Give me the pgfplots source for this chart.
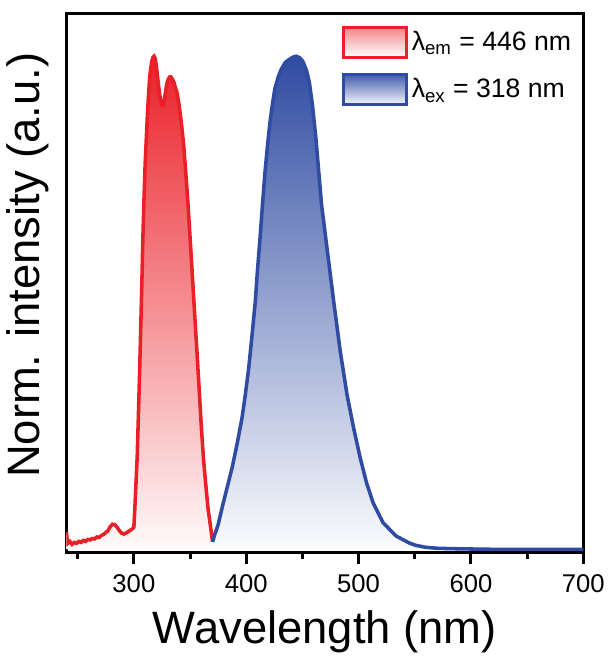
\documentclass[border=0pt]{standalone}
\usepackage{fontspec}
\setmainfont{Liberation Sans}
\usepackage{pgfplots}
\usepackage{pgfplotstable}
\pgfplotsset{compat=1.18}

% excitation spectrum (red), monitored at 446 nm
\pgfplotstableread{
wl int
240 0.035
240.5 0.022
241 0.012
243 0.016
245 0.010
247 0.014
249 0.012
251 0.016
253 0.014
255 0.018
257 0.016
259 0.020
261 0.019
263 0.022
265 0.021
267 0.025
269 0.024
271 0.028
273 0.030
275 0.034
277 0.038
279 0.046
281 0.051
283 0.050
285 0.045
287 0.038
289 0.033
291 0.031
293 0.033
295 0.036
297 0.039
299 0.042
300 0.045
301 0.09
302 0.14
303 0.19
304 0.27
305 0.35
306 0.44
307 0.53
308 0.63
309 0.71
310 0.78
311 0.83
312 0.88
313 0.92
314 0.955
315 0.975
316 0.99
317 0.998
318 1.0
319 0.995
320 0.98
321 0.96
322 0.94
323 0.922
324 0.908
325 0.90
326 0.90
327 0.91
328 0.925
329 0.94
330 0.95
331 0.955
332 0.958
333 0.958
334 0.955
335 0.95
336 0.945
337 0.935
338 0.93
339 0.918
340 0.905
342 0.87
344 0.828
346 0.77
348 0.706
350 0.633
352 0.557
354 0.481
356 0.406
358 0.329
360 0.25
362 0.182
364 0.131
366 0.083
368 0.05
370 0.016
}\exdata

% emission spectrum (blue), excited at 318 nm
\pgfplotstableread{
wl int
370 0.015
372 0.03
375 0.05
378.8 0.087
383 0.125
387.6 0.167
392 0.215
396.3 0.267
399 0.31
402.2 0.367
405 0.43
408 0.50
410 0.565
412.4 0.634
414.5 0.70
416.8 0.767
419 0.82
421.2 0.867
423.5 0.905
425.5 0.934
428.5 0.958
431.3 0.974
435 0.988
438.7 0.994
441.5 0.998
444.4 1.0
447.5 0.997
450.3 0.99
453.5 0.972
456.2 0.947
459 0.90
462 0.834
467 0.70
472.5 0.60
478 0.50
483.8 0.40
489.7 0.314
495.5 0.247
501.3 0.187
507.2 0.134
513 0.094
521.8 0.054
533.4 0.027
545 0.013
551 0.008
560 0.004
571 0.002
590 0.001
620 0.0
660 0.0
700 0.0
}\emdata

\begin{document}
\begin{tikzpicture}
\definecolor{exred}{RGB}{234,32,40}
\definecolor{emblue}{RGB}{48,76,162}
\begin{axis}[
	scale only axis,
	width=262pt, height=273pt,
	xmin=240, xmax=700,
	ymin=-0.006, ymax=1.086,
	xtick={300,400,...,700},
	minor xtick={250,350,...,650},
	ytick=\empty,
	xtick pos=bottom,
	tick align=outside,
	major tick length=6pt,
	minor tick length=3.5pt,
	axis line style={line width=1.5pt},
	every tick/.style={black, line width=1.5pt},
	/pgf/number format/assume math mode=true,
	xticklabel style={font=\fontsize{13}{13}\selectfont, yshift=-2pt},
	xlabel={Wavelength (nm)},
	ylabel={Norm. intensity (a.u.)},
	label style={font=\fontsize{23}{23}\selectfont},
	xlabel style={at={(axis description cs:0.5,0)}, anchor=base, yshift=-46pt},
	ylabel style={at={(axis description cs:-0.075,0.533)}, anchor=center},
	legend style={at={(0.985,0.978)}, anchor=north east, draw=none, fill=none,
		font=\fontsize{13.5}{15}\selectfont, row sep=7.5pt, inner sep=0pt},
	legend cell align=left,
]
\addplot[draw=none, top color=exred, bottom color=exred!2, forget plot]
	table[x=wl, y=int] {\exdata} \closedcycle;
\addplot[draw=none, top color=emblue, bottom color=emblue!2, forget plot]
	table[x=wl, y=int] {\emdata} \closedcycle;
\addplot[exred, line width=1.8pt, forget plot] table[x=wl, y=int] {\exdata};
\addplot[emblue, line width=1.8pt, forget plot] table[x=wl, y=int] {\emdata};

\addlegendimage{legend image code/.code={%
	\draw[draw=exred, line width=1.5pt, top color=exred!55, bottom color=white]
		(0pt,-7.5pt) rectangle (32pt,7.5pt);}}
\addlegendentry{λ\textsubscript{em} = 446 nm}
\addlegendimage{legend image code/.code={%
	\draw[draw=emblue, line width=1.5pt, top color=emblue!90, bottom color=emblue!5]
		(0pt,-7.5pt) rectangle (32pt,7.5pt);}}
\addlegendentry{λ\textsubscript{ex} = 318 nm}
\end{axis}
\path (current axis.north west) ++(0,7pt);
\end{tikzpicture}
\end{document}
